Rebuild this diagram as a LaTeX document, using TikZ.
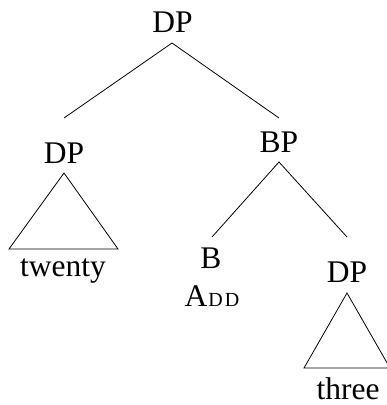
\documentclass[tikz,border=0pt]{standalone}
\usepackage{fontspec}
\setmainfont{Liberation Serif}
\begin{document}
\begin{tikzpicture}[x=1pt,y=-1pt,
  lbl/.style={anchor=base,inner sep=0pt,text depth=0pt,font=\fontsize{31.5}{31.5}\selectfont},
  edge/.style={line width=0.8pt,black},
  roof/.style={line width=0.8pt,black,line join=miter}]
\useasboundingbox (0,0) rectangle (387,405);
% labels
\node[lbl] (top) at (172.5,32) {DP};
\node[lbl] (dpl) at (64,163) {DP};
\node[lbl] (bp) at (279,152) {BP};
\node[lbl] (tw) at (63,276) {twenty};
\node[lbl] (b) at (211,268) {B};
\node[lbl] (add) at (212,306) {A\kern1pt{\fontsize{20}{20}\selectfont D\kern2pt D}};
\node[lbl] (dpr) at (347,282) {DP};
\node[lbl] (th) at (348,399) {three};
% attachment points
\coordinate (topS) at (172,43);
\coordinate (dplN) at (64,118);
\coordinate (bpN) at (279,118);
\coordinate (bpS) at (279,162);
\coordinate (bN) at (212,237);
\coordinate (dprN) at (347,237);
% edges
\draw[edge] (dplN) -- (topS) -- (bpN);
\draw[edge] (bN) -- (bpS) -- (dprN);
% roofs
\coordinate (r1a) at (64,173);
\coordinate (r1l) at (9,249);
\coordinate (r1r) at (118,249);
\draw[roof] (r1a) -- (r1l) -- (r1r) -- cycle;
\coordinate (r2a) at (347,293);
\coordinate (r2l) at (304,368);
\coordinate (r2r) at (390,368);
\draw[roof] (r2a) -- (r2l) -- (r2r) -- cycle;
\end{tikzpicture}
\end{document}
